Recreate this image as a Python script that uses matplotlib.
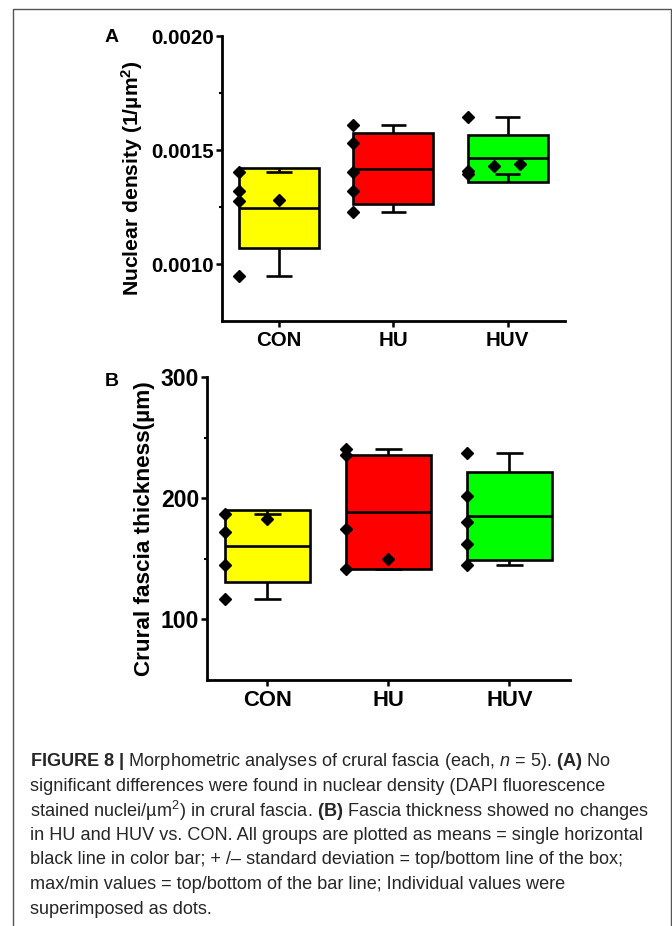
import numpy as np
import matplotlib
matplotlib.use("Agg")
import matplotlib.pyplot as plt
from matplotlib.lines import Line2D
from matplotlib.ticker import FixedLocator

plt.rcParams['font.family'] = ['Liberation Sans', 'DejaVu Sans']
plt.rcParams['mathtext.fontset'] = 'custom'
plt.rcParams['mathtext.rm'] = 'Liberation Sans'
plt.rcParams['mathtext.it'] = 'Liberation Sans:italic'
plt.rcParams['mathtext.bf'] = 'Liberation Sans:bold'

# ---------------- data ----------------
groups = ["CON", "HU", "HUV"]
colors = ["#FFFF00", "#FF0000", "#00FF00"]

con_density = [0.001405, 0.001319, 0.001275, 0.000946, 0.001282]
hu_density = [0.001611, 0.001531, 0.001402, 0.001322, 0.001227]
huv_density = [0.001646, 0.001409, 0.001395, 0.001431, 0.001439]

con_thick = [187.5, 172.4, 144.8, 116.5, 183.1]
hu_thick = [241.1, 235.9, 175.1, 141.5, 149.8]
huv_thick = [237.8, 202.3, 180.3, 162.2, 144.6]

density_ticks = [0.0010, 0.0015, 0.0020]
density_ticklabels = ["0.0010", "0.0015", "0.0020"]
thick_ticks = [100, 200, 300]
thick_ticklabels = ["100", "200", "300"]

# dot horizontal placement (style)
density_jitter = [[-0.35, -0.35, -0.35, -0.35, 0.0],
                  [-0.35, -0.35, -0.35, -0.35, -0.35],
                  [-0.35, -0.35, -0.35, -0.12, 0.11]]
thick_jitter = [[-0.35, -0.35, -0.35, -0.35, 0.0],
                [-0.35, -0.35, -0.35, -0.35, 0.0],
                [-0.35, -0.35, -0.35, -0.35, -0.35]]

W, H = 672, 926
fig = plt.figure(figsize=(W / 100, H / 100), dpi=100)

LW = 1.9


def panel(ax, data, jitter, ylim, yticks, yticklabels, minor, ylabel,
          tick_fs, cat_fs, lab_fs, lab_x):
    x = np.arange(len(groups))
    means = np.array([np.mean(d) for d in data])
    sds = np.array([np.std(d, ddof=1) for d in data])
    ax.bar(x, 2 * sds, bottom=means - sds, width=0.7, color=colors,
           edgecolor="black", linewidth=LW, zorder=2)
    ax.hlines(means, x - 0.35, x + 0.35, colors="black", linewidth=LW, zorder=3)
    for i, d in enumerate(data):
        top, bot = means[i] + sds[i], means[i] - sds[i]
        ax.vlines([x[i], x[i]], [top, bot], [max(d), min(d)], colors="black",
                  linewidth=LW, zorder=3)
        ax.hlines([max(d), min(d)], x[i] - 0.11, x[i] + 0.11, colors="black",
                  linewidth=LW, zorder=3)
        ax.plot(x[i] + np.array(jitter[i]), d, linestyle="none", marker="D",
                markersize=6.0, color="black", zorder=4, clip_on=False)
    ax.set_xlim(-0.5, 2.5)
    ax.set_ylim(*ylim)
    ax.set_yticks(yticks)
    ax.set_yticklabels(yticklabels, fontsize=tick_fs, fontweight="bold")
    ax.yaxis.set_minor_locator(FixedLocator(minor))
    ax.set_xticks(x)
    ax.set_xticklabels(groups, fontsize=cat_fs, fontweight="bold")
    for s in ["top", "right"]:
        ax.spines[s].set_visible(False)
    for s in ["left", "bottom"]:
        ax.spines[s].set_linewidth(2.0)
    ax.tick_params(axis="y", which="major", length=4, width=1.8, pad=1.5)
    ax.tick_params(axis="y", which="minor", length=2.5, width=1.5)
    ax.tick_params(axis="x", which="major", length=4, width=1.8, pad=3.5)
    ax.set_ylabel(ylabel, fontsize=lab_fs, fontweight="bold")
    ax.yaxis.set_label_coords(lab_x, 0.5)


axA = fig.add_axes([221.7 / W, 1 - 321 / H, (565 - 221.7) / W, (321 - 36) / H])
panel(axA, [con_density, hu_density, huv_density], density_jitter,
      (0.00075, 0.0020), density_ticks, density_ticklabels, [0.00125, 0.00175],
      r"Nuclear density (1/µm$^{\mathbf{2}}$)", 14.8, 14.8, 15.2, -0.2234)

axB = fig.add_axes([206.7 / W, 1 - 680 / H, (570 - 206.7) / W, (680 - 377.3) / H])
panel(axB, [con_thick, hu_thick, huv_thick], thick_jitter,
      (50, 300), thick_ticks, thick_ticklabels, [150, 250],
      "Crural fascia thickness(µm)", 16.6, 15.8, 16.2, -0.1423)

fig.text(111.5 / W, 1 - 38 / H, "A", fontsize=14, fontweight="bold",
         ha="center", va="center")
fig.text(111.5 / W, 1 - 381 / H, "B", fontsize=14, fontweight="bold",
         ha="center", va="center")

# frame
frame_c = "#555555"
fig.add_artist(Line2D([13.3 / W, 13.3 / W, 670.5 / W, 670.5 / W],
                      [0, 1 - 8.5 / H, 1 - 8.5 / H, 0], color=frame_c,
                      linewidth=1.0, transform=fig.transFigure))

caption = [
    r"$\mathbf{FIGURE\ 8\ |}$ Morphometric analyses of crural fascia (each, $\mathit{n}$ = 5). $\mathbf{(A)}$ No",
    "significant differences were found in nuclear density (DAPI fluorescence",
    r"stained nuclei/µm$^{2}$) in crural fascia. $\mathbf{(B)}$ Fascia thickness showed no changes",
    "in HU and HUV vs. CON. All groups are plotted as means = single horizontal",
    "black line in color bar; + /– standard deviation = top/bottom line of the box;",
    "max/min values = top/bottom of the bar line; Individual values were",
    "superimposed as dots.",
]
y0 = 762
for i, line in enumerate(caption):
    fig.text(30 / W, 1 - (y0 + i * 24.5) / H, line, fontsize=13.1,
             color="#262626", ha="left", va="center")

fig.savefig("out.png", dpi=100)
